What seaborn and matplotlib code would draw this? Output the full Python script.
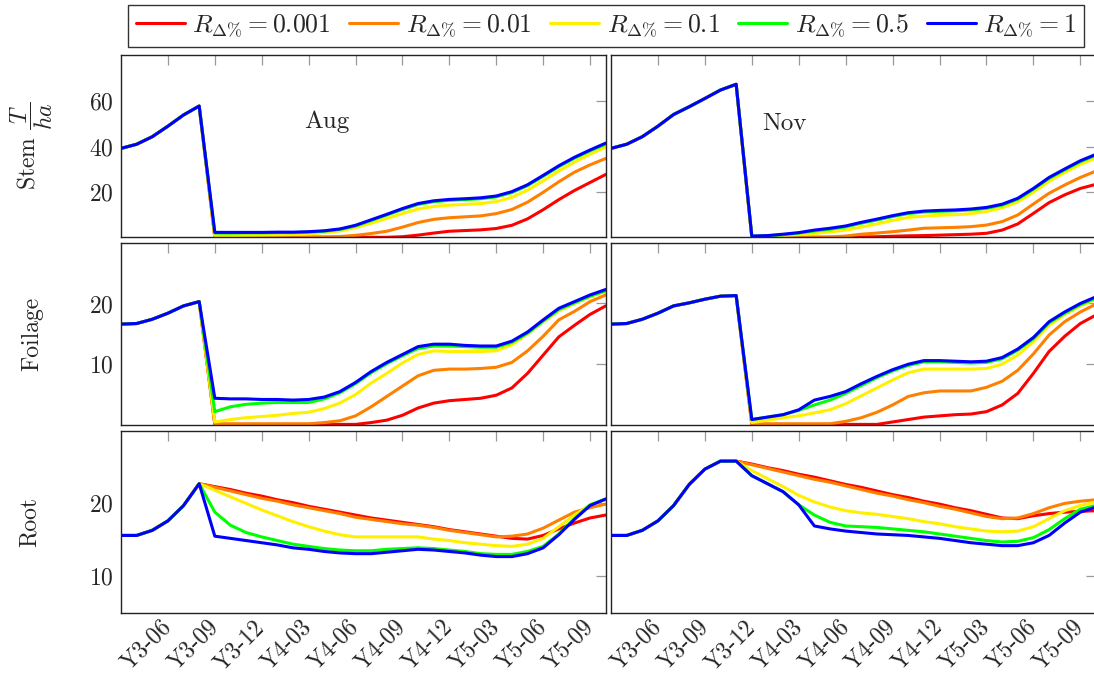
import numpy as np
import pandas as pd
import matplotlib
matplotlib.use("Agg")
import matplotlib.pyplot as plt
import seaborn as sns

# ---------------------------------------------------------------------------
# Data: monthly biomass (T/ha) from Y3-03 (month 0) to Y5-10 (month 31)
# ---------------------------------------------------------------------------
ratio_labels = [r"$R_{\Delta\%} = 0.001$", r"$R_{\Delta\%} = 0.01$",
                r"$R_{\Delta\%} = 0.1$", r"$R_{\Delta\%} = 0.5$",
                r"$R_{\Delta\%} = 1$"]
ratio_colors = ["#ff0000", "#ff8000", "#fff000", "#00ff00", "#0000ff"]

tick_labels = ["Y3-06", "Y3-09", "Y3-12", "Y4-03", "Y4-06",
               "Y4-09", "Y4-12", "Y5-03", "Y5-06", "Y5-09"]
tick_months = [3, 6, 9, 12, 15, 18, 21, 24, 27, 30]

# --- Stem, August harvest (common trajectory up to month 5) ---
stem_aug_pre = [39.2, 41.0, 44.3, 48.9, 53.8, 57.7]
stem_aug_r0001 = [0.35] * 12 + [0.6, 1.3, 2.2, 3.0, 3.3, 3.6, 4.2, 5.6, 8.4, 12.4, 16.8, 20.8, 24.3, 27.8]
stem_aug_r001 = [0.5] * 8 + [0.7, 1.2, 2.0, 3.0, 4.8, 6.8, 8.2, 8.9, 9.3, 9.7, 10.7, 12.5, 15.7, 20.0, 24.6, 28.8, 32.0, 34.8]
stem_aug_r01 = [1.0, 1.1, 1.2, 1.3, 1.4, 1.6, 1.8, 2.4, 3.1, 4.6, 6.5, 8.6, 10.7, 12.7, 13.8, 14.4, 14.7, 15.1, 15.9, 17.8, 20.9, 25.0, 29.3, 33.2, 36.6, 39.8]
stem_aug_r05 = [2.2, 2.2, 2.3, 2.3, 2.4, 2.4, 2.6, 3.0, 3.8, 5.3, 7.7, 10.1, 12.5, 14.7, 15.9, 16.5, 16.8, 17.2, 18.0, 19.9, 22.9, 27.0, 31.2, 34.9, 38.1, 41.1]
stem_aug_r1 = [2.5, 2.5, 2.5, 2.5, 2.6, 2.6, 2.8, 3.2, 4.0, 5.6, 8.0, 10.4, 12.9, 15.1, 16.3, 16.9, 17.2, 17.6, 18.4, 20.3, 23.3, 27.4, 31.6, 35.3, 38.5, 41.5]

# --- Stem, November harvest (common trajectory up to month 8) ---
stem_nov_pre = [39.2, 41.0, 44.3, 48.9, 54.0, 57.4, 61.0, 64.7, 67.2]
stem_nov_r0001 = [0.35] * 6 + [0.4, 0.5, 0.6, 0.8, 1.0, 1.1, 1.3, 1.5, 1.7, 2.1, 3.5, 6.2, 10.8, 15.5, 18.9, 21.7, 23.5]
stem_nov_r001 = [0.4] * 5 + [0.5, 0.9, 1.7, 2.2, 2.8, 3.5, 4.3, 4.5, 4.7, 5.0, 5.7, 7.2, 10.1, 14.9, 19.6, 23.2, 26.5, 29.3]
stem_nov_r01 = [0.6, 0.8, 1.1, 1.5, 2.0, 2.7, 3.5, 4.8, 6.2, 7.7, 9.0, 9.6, 10.0, 10.2, 10.7, 11.6, 13.2, 15.8, 20.0, 24.8, 28.7, 32.2, 35.0]
stem_nov_r05 = [0.8, 1.0, 1.5, 2.2, 3.1, 3.9, 4.9, 6.5, 7.9, 9.4, 10.7, 11.4, 11.7, 11.9, 12.3, 13.0, 14.4, 17.0, 21.3, 26.1, 29.8, 33.4, 36.2]
stem_nov_r1 = [0.9, 1.1, 1.7, 2.4, 3.5, 4.3, 5.3, 6.9, 8.3, 9.8, 11.1, 11.8, 12.1, 12.3, 12.7, 13.4, 14.8, 17.4, 21.7, 26.5, 30.2, 33.8, 36.6]

# --- Foliage, August harvest ---
fol_aug_pre = [16.6, 16.7, 17.4, 18.4, 19.6, 20.3]
fol_aug_r0001 = [0.1] * 10 + [0.4, 0.8, 1.6, 2.8, 3.6, 4.0, 4.2, 4.4, 4.9, 6.1, 8.5, 11.5, 14.5, 16.4, 18.2, 19.6]
fol_aug_r001 = [0.2] * 7 + [0.4, 0.7, 1.5, 3.0, 4.7, 6.4, 8.1, 9.0, 9.2, 9.2, 9.3, 9.5, 10.3, 12.2, 14.6, 17.3, 18.7, 20.3, 21.4]
fol_aug_r01 = [0.5, 0.9, 1.2, 1.4, 1.6, 1.9, 2.1, 2.7, 3.6, 5.0, 6.9, 8.5, 10.2, 11.6, 12.2, 12.1, 12.1, 12.1, 12.2, 13.2, 15.0, 17.0, 18.8, 20.0, 21.1, 22.0]
fol_aug_r05 = [2.2, 3.0, 3.4, 3.6, 3.7, 3.7, 3.7, 4.3, 5.3, 6.8, 8.6, 10.1, 11.4, 12.6, 13.0, 13.0, 12.9, 12.8, 12.8, 13.6, 15.1, 17.1, 19.0, 20.1, 21.2, 22.1]
fol_aug_r1 = [4.4, 4.3, 4.3, 4.2, 4.2, 4.1, 4.2, 4.6, 5.5, 7.0, 8.8, 10.3, 11.6, 12.9, 13.3, 13.3, 13.1, 13.0, 13.0, 13.8, 15.3, 17.3, 19.2, 20.3, 21.4, 22.3]

# --- Foliage, November harvest ---
fol_nov_pre = [16.6, 16.7, 17.4, 18.4, 19.6, 20.1, 20.7, 21.2, 21.3]
fol_nov_r0001 = [0.1] * 9 + [0.5, 0.9, 1.3, 1.5, 1.7, 1.8, 2.2, 3.3, 5.2, 8.5, 12.1, 14.6, 16.7, 18.1]
fol_nov_r001 = [0.2] * 6 + [0.6, 1.2, 2.1, 3.3, 4.7, 5.3, 5.6, 5.6, 5.6, 6.2, 7.2, 9.0, 11.7, 14.8, 17.0, 18.6, 19.9]
fol_nov_r01 = [0.4, 0.8, 1.2, 1.5, 2.0, 2.5, 3.5, 4.8, 6.1, 7.4, 8.6, 9.2, 9.2, 9.2, 9.2, 9.3, 10.0, 11.5, 13.7, 16.4, 18.2, 19.6, 20.7]
fol_nov_r05 = [0.9, 1.3, 1.7, 2.4, 3.3, 4.1, 5.2, 6.5, 7.8, 8.9, 9.8, 10.4, 10.4, 10.3, 10.2, 10.3, 10.9, 12.3, 14.2, 16.8, 18.4, 19.8, 20.9]
fol_nov_r1 = [0.9, 1.3, 1.7, 2.5, 4.1, 4.7, 5.5, 6.8, 8.0, 9.1, 10.0, 10.6, 10.6, 10.5, 10.4, 10.5, 11.1, 12.5, 14.4, 17.0, 18.6, 20.0, 21.1]

# --- Root, August harvest ---
root_aug_pre = [15.6, 15.6, 16.3, 17.6, 19.7, 22.7]
root_aug_r0001 = [22.3, 21.9, 21.4, 21.0, 20.5, 20.1, 19.6, 19.2, 18.8, 18.4, 18.0, 17.7, 17.4, 17.1, 16.8, 16.4, 16.1, 15.8, 15.5, 15.2, 15.1, 15.6, 16.5, 17.3, 18.0, 18.4]
root_aug_r001 = [22.2, 21.7, 21.2, 20.7, 20.3, 19.8, 19.4, 19.0, 18.6, 18.1, 17.8, 17.5, 17.2, 17.0, 16.7, 16.3, 16.0, 15.7, 15.4, 15.5, 15.8, 16.6, 17.7, 18.8, 19.4, 19.9]
root_aug_r01 = [21.8, 20.9, 20.0, 19.1, 18.3, 17.5, 16.8, 16.2, 15.7, 15.4, 15.4, 15.4, 15.4, 15.4, 15.1, 14.9, 14.6, 14.4, 14.2, 14.1, 14.4, 15.2, 16.8, 18.4, 19.8, 20.5]
root_aug_r05 = [18.8, 17.0, 16.0, 15.4, 14.9, 14.4, 14.1, 13.8, 13.6, 13.5, 13.5, 13.7, 13.8, 13.9, 13.8, 13.6, 13.4, 13.1, 13.0, 13.0, 13.4, 14.1, 15.8, 17.9, 19.8, 20.6]
root_aug_r1 = [15.5, 15.2, 14.9, 14.6, 14.3, 13.9, 13.7, 13.4, 13.2, 13.1, 13.1, 13.3, 13.5, 13.7, 13.6, 13.4, 13.2, 12.9, 12.7, 12.7, 13.1, 13.9, 15.7, 17.8, 19.7, 20.6]

# --- Root, November harvest ---
root_nov_pre = [15.6, 15.6, 16.3, 17.6, 19.7, 22.6, 24.7, 25.8, 25.8]
root_nov_r0001 = [25.4, 24.9, 24.5, 24.0, 23.6, 23.1, 22.6, 22.2, 21.7, 21.2, 20.8, 20.3, 19.9, 19.4, 19.0, 18.5, 18.0, 17.9, 18.3, 18.6, 18.8, 18.9, 19.0]
root_nov_r001 = [25.3, 24.8, 24.3, 23.8, 23.3, 22.9, 22.4, 21.9, 21.4, 21.0, 20.5, 20.1, 19.6, 19.2, 18.7, 18.2, 17.9, 18.0, 18.6, 19.4, 20.0, 20.3, 20.5]
root_nov_r01 = [24.5, 23.4, 22.3, 21.1, 20.2, 19.5, 19.0, 18.7, 18.5, 18.2, 17.9, 17.5, 17.2, 16.8, 16.5, 16.2, 16.1, 16.2, 16.8, 17.9, 19.0, 19.7, 20.2]
root_nov_r05 = [23.8, 22.7, 21.6, 19.8, 18.4, 17.4, 16.9, 16.8, 16.7, 16.5, 16.3, 16.1, 15.8, 15.5, 15.2, 14.9, 14.7, 14.8, 15.3, 16.4, 17.9, 19.2, 19.7]
root_nov_r1 = [23.8, 22.7, 21.6, 19.8, 16.9, 16.5, 16.2, 16.0, 15.8, 15.7, 15.6, 15.4, 15.2, 14.9, 14.6, 14.4, 14.2, 14.2, 14.6, 15.6, 17.3, 18.8, 19.5]


def build_frame(pre, *posts):
    """Long-form table: one row per (month, ratio)."""
    rows = []
    for label, post in zip(ratio_labels, posts):
        values = list(pre) + list(post)
        for month, v in enumerate(values):
            rows.append({"month": month, "value": v, "ratio": label})
    return pd.DataFrame(rows)


panels = [
    [build_frame(stem_aug_pre, stem_aug_r0001, stem_aug_r001, stem_aug_r01, stem_aug_r05, stem_aug_r1),
     build_frame(stem_nov_pre, stem_nov_r0001, stem_nov_r001, stem_nov_r01, stem_nov_r05, stem_nov_r1)],
    [build_frame(fol_aug_pre, fol_aug_r0001, fol_aug_r001, fol_aug_r01, fol_aug_r05, fol_aug_r1),
     build_frame(fol_nov_pre, fol_nov_r0001, fol_nov_r001, fol_nov_r01, fol_nov_r05, fol_nov_r1)],
    [build_frame(root_aug_pre, root_aug_r0001, root_aug_r001, root_aug_r01, root_aug_r05, root_aug_r1),
     build_frame(root_nov_pre, root_nov_r0001, root_nov_r001, root_nov_r01, root_nov_r05, root_nov_r1)],
]

row_ylabels = [r"Stem $\dfrac{T}{ha}$", "Foilage", "Root"]
row_label_x = [-0.137, -0.16, -0.165]
row_ylims = [(0.35, 80), (0, 30), (5, 30)]
row_yticks = [[20, 40, 60], [10, 20], [10, 20]]

# ---------------------------------------------------------------------------
# Styling
# ---------------------------------------------------------------------------
sns.set_style("white")
plt.rcParams.update({
    "font.family": "serif",
    "font.serif": ["cmr10"],
    "mathtext.fontset": "cm",
    "axes.formatter.use_mathtext": True,
    "axes.unicode_minus": False,
})

W, H = 1094, 675
fig = plt.figure(figsize=(W / 100, H / 100), dpi=100)

col_x = [(121, 605.7), (611, 1096.0)]
row_y = [(55, 237.3), (242.7, 425.0), (430.5, 612.7)]
label_fs = 17

axes = [[None, None] for _ in range(3)]
for r, (top, bot) in enumerate(row_y):
    for c, (left, right) in enumerate(col_x):
        ax = fig.add_axes([left / W, 1 - bot / H, (right - left) / W, (bot - top) / H])
        axes[r][c] = ax
        sns.lineplot(data=panels[r][c], x="month", y="value", hue="ratio",
                     hue_order=ratio_labels, palette=ratio_colors,
                     estimator=None, sort=True, linewidth=2.2, ax=ax,
                     legend=(r == 0 and c == 0))
        ax.set_xlim(0, 31)
        ax.set_ylim(*row_ylims[r])
        ax.set_yticks(row_yticks[r])
        ax.set_xticks(tick_months)
        ax.set_xlabel("")
        ax.set_ylabel("")
        for sp in ax.spines.values():
            sp.set_color("#222222")
            sp.set_linewidth(1.0)
        ax.tick_params(direction="in", length=7, width=0.9, color="#999999",
                       top=True, right=True, labelsize=label_fs, pad=5)
        if r < 2:
            ax.set_xticklabels([])
        else:
            ax.set_xticklabels(tick_labels, rotation=45, ha="right", va="center",
                               rotation_mode="anchor")
            ax.tick_params(axis="x", pad=8)
        if c == 1:
            ax.set_yticklabels([])
        else:
            ax.set_ylabel(row_ylabels[r], fontsize=label_fs)
            ax.yaxis.set_label_coords(row_label_x[r], 0.5)

# Harvest month annotations
axes[0][0].text(0.425, 0.635, "Aug", transform=axes[0][0].transAxes,
                fontsize=18, ha="center", va="center")
axes[0][1].text(0.358, 0.62, "Nov", transform=axes[0][1].transAxes,
                fontsize=18, ha="center", va="center")

# Shared legend across the top
handles, labels = axes[0][0].get_legend_handles_labels()
axes[0][0].get_legend().remove()
leg = fig.legend(handles, labels, loc="center", ncol=5,
                 bbox_to_anchor=(606 / W, 1 - 26 / H), fontsize=18.5,
                 frameon=True, fancybox=False, edgecolor="black",
                 handlelength=1.9, handletextpad=0.3, columnspacing=0.72,
                 borderpad=0.3)
leg.get_frame().set_linewidth(1.0)
for line in leg.get_lines():
    line.set_linewidth(2.2)

fig.savefig("out.png", dpi=100)
